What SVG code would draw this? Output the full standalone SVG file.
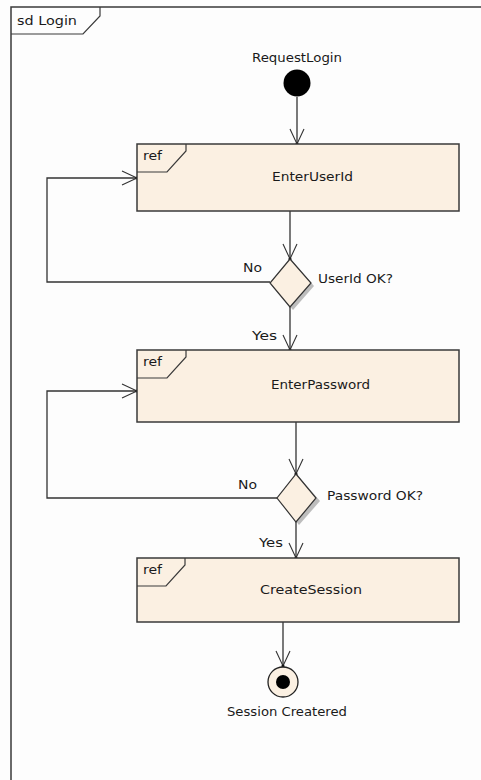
<svg xmlns="http://www.w3.org/2000/svg" width="481" height="780" viewBox="0 0 481 780">
  <style>
    .frame { fill: none; stroke: #3a3a3a; stroke-width: 1.5; }
    .box { fill: #fbf0e2; stroke: #3a3a3a; stroke-width: 1.5; }
    .tab { fill: none; stroke: #3a3a3a; stroke-width: 1.2; }
    .dec { fill: #fbf0e2; stroke: #333; stroke-width: 1.2; }
    .shadow { fill: #bdbdbd; }
    .edge { fill: none; stroke: #333; stroke-width: 1.3; marker-end: url(#open); }
    text { font-family: "DejaVu Sans", "Liberation Sans", sans-serif; font-size: 12.5px; fill: #1a1a1a; }
  </style>
  <defs>
    <marker id="open" markerUnits="userSpaceOnUse" markerWidth="20" markerHeight="20" refX="16" refY="8" orient="auto" overflow="visible">
      <path d="M1,1 L16,8 L1,15" fill="none" stroke="#333" stroke-width="1.1"/>
      <circle cx="16" cy="8" r="1.6" fill="#111"/>
    </marker>
  </defs>

  <rect width="481" height="780" fill="#fdfdfd"/>

  <!-- sequence frame -->
  <g id="frame">
    <path class="frame" d="M11,780 V7 H490"/>
    <path class="tab" d="M11,34 H83 L100,16 V7"/>
    <text x="17" y="25" textLength="60" lengthAdjust="spacingAndGlyphs">sd Login</text>
  </g>

  <!-- connectors -->
  <g id="connectors">
    <path class="edge" d="M297,97 V144"/>
    <path class="edge" d="M290,211 V259"/>
    <path class="edge" d="M270,282 H47 V178 H137"/>
    <path class="edge" d="M290,307 V350"/>
    <path class="edge" d="M296,422 V474"/>
    <path class="edge" d="M277,498 H47 V391 H137"/>
    <path class="edge" d="M296,522 V558"/>
    <path class="edge" d="M283,622 V666"/>
    <text x="243" y="272" textLength="19" lengthAdjust="spacingAndGlyphs">No</text>
    <text x="252" y="340" textLength="25" lengthAdjust="spacingAndGlyphs">Yes</text>
    <text x="238" y="489" textLength="19" lengthAdjust="spacingAndGlyphs">No</text>
    <text x="259" y="547" textLength="24" lengthAdjust="spacingAndGlyphs">Yes</text>
  </g>

  <!-- start -->
  <g id="requestLogin">
    <circle cx="297" cy="83" r="13.5" fill="#000"/>
    <text x="252" y="62" textLength="90" lengthAdjust="spacingAndGlyphs">RequestLogin</text>
  </g>

  <g id="enterUserId">
    <rect class="box" x="137" y="144" width="322" height="67"/>
    <path class="tab" d="M137,172 H167 L186,151 V144"/>
    <text x="143" y="160" textLength="19" lengthAdjust="spacingAndGlyphs">ref</text>
    <text x="272" y="181" textLength="81" lengthAdjust="spacingAndGlyphs">EnterUserId</text>
  </g>

  <g id="userIdOk">
    <path class="shadow" d="M293,262 L314,286 L293,310 L272,286 Z"/>
    <path class="dec" d="M290,259 L311,283 L290,307 L270,283 Z"/>
    <text x="318" y="283" textLength="75" lengthAdjust="spacingAndGlyphs">UserId OK?</text>
  </g>

  <g id="enterPassword">
    <rect class="box" x="137" y="350" width="322" height="72"/>
    <path class="tab" d="M137,378 H167 L186,357 V350"/>
    <text x="143" y="366" textLength="19" lengthAdjust="spacingAndGlyphs">ref</text>
    <text x="271" y="389" textLength="99" lengthAdjust="spacingAndGlyphs">EnterPassword</text>
  </g>

  <g id="passwordOk">
    <path class="shadow" d="M299,477 L320,501 L299,525 L280,501 Z"/>
    <path class="dec" d="M296,474 L316,498 L296,522 L277,498 Z"/>
    <text x="327" y="500" textLength="96" lengthAdjust="spacingAndGlyphs">Password OK?</text>
  </g>

  <g id="createSession">
    <rect class="box" x="137" y="558" width="322" height="64"/>
    <path class="tab" d="M137,586 H166 L185,565 V558"/>
    <text x="143" y="574" textLength="19" lengthAdjust="spacingAndGlyphs">ref</text>
    <text x="260" y="594" textLength="102" lengthAdjust="spacingAndGlyphs">CreateSession</text>
  </g>

  <!-- final -->
  <g id="sessionCreated">
    <circle cx="283" cy="682" r="15" fill="#fbf0e2" stroke="#222" stroke-width="1.3"/>
    <circle cx="283" cy="682" r="7" fill="#000"/>
    <text x="227" y="716" textLength="120" lengthAdjust="spacingAndGlyphs">Session Createred</text>
  </g>
</svg>
